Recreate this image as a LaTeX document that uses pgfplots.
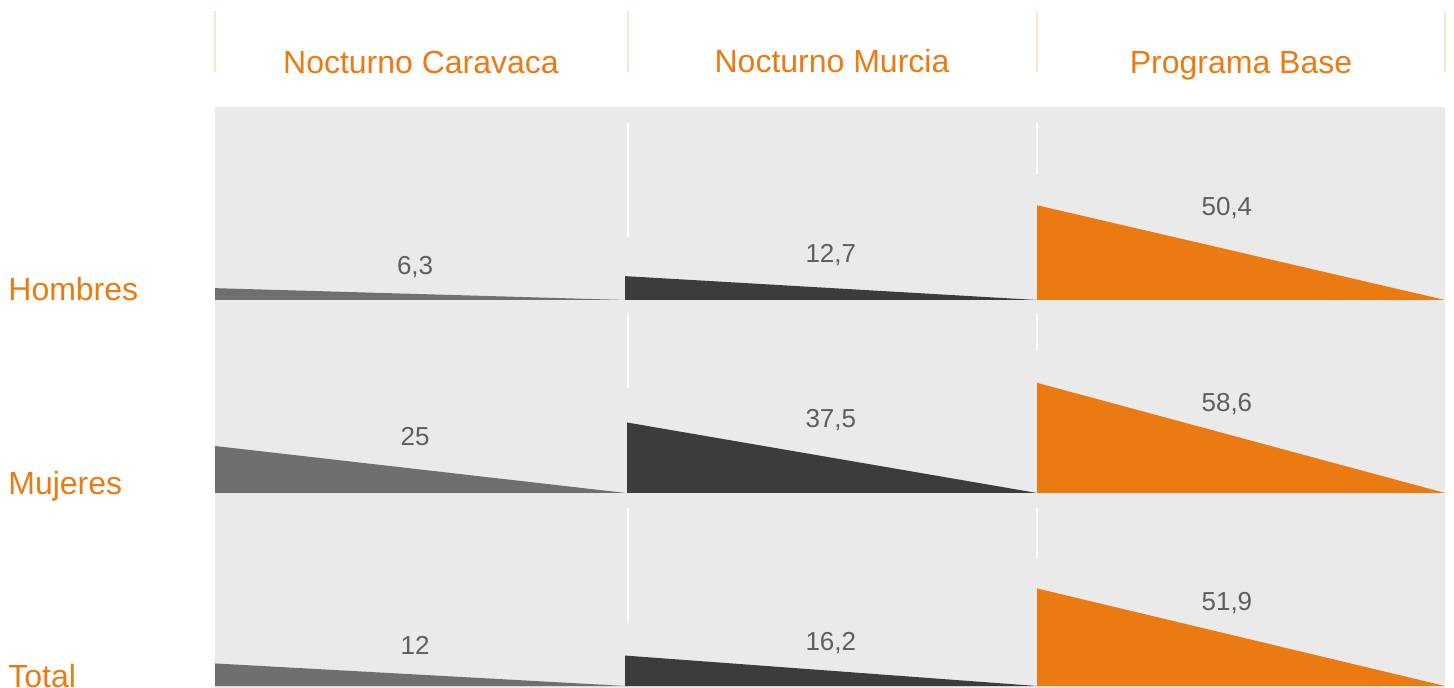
\documentclass[border=0pt]{standalone}
\usepackage{pgfplots}
\pgfplotsset{compat=1.18}
\usepackage{fontspec}
\setmainfont{Liberation Sans}
\definecolor{bg}{HTML}{EAEAEA}
\definecolor{cgray}{HTML}{6F6F6E}
\definecolor{cdark}{HTML}{3C3C3B}
\definecolor{corange}{HTML}{EC7A12}
\definecolor{hline}{HTML}{FCE4CE}
\definecolor{vtext}{HTML}{5E5E5E}
\pgfplotsset{rowax/.style={scale only axis, width=615pt, height=96.5pt,
  xmin=0, xmax=3, ymin=0, ymax=102.66, axis lines=none, ticks=none,
  clip=false, anchor=south west}}
\tikzset{vlab/.style={vtext, anchor=base, font=\fontsize{13}{15}\selectfont},
  ttl/.style={corange, font=\fontsize{16}{19}\selectfont}}
\begin{document}
\begin{tikzpicture}
\begin{scope}[x=0.5pt,y=-0.5pt]
\path[use as bounding box] (0,0) rectangle (1454,688);
\fill[bg] (215,107) rectangle (1445,688);
\foreach \x in {215,628,1037,1445} \draw[hline, line width=1pt] (\x,11) -- (\x,72);
\node[ttl, anchor=base] at (421,74) {Nocturno Caravaca};
\node[ttl, anchor=base] at (832,73) {Nocturno Murcia};
\node[ttl, anchor=base] at (1241,74) {Programa Base};
\node[ttl, anchor=base west, inner sep=0pt] at (8,301) {Hombres};
\node[ttl, anchor=base west, inner sep=0pt] at (8,495) {Mujeres};
\node[ttl, anchor=base west, inner sep=0pt] at (8,687) {Total};
% white separators
\draw[white, line width=1pt] (628,123) -- (628,237);
\draw[white, line width=1pt] (1037,123) -- (1037,174);
\draw[white, line width=1pt] (628,313) -- (628,388);
\draw[white, line width=1pt] (1037,313) -- (1037,351);
\draw[white, line width=1pt] (628,508) -- (628,623);
\draw[white, line width=1pt] (1037,508) -- (1037,559);
\end{scope}
% Hombres
\begin{axis}[rowax, at={(107.5pt,-150pt)}]
\addplot[fill=cgray, draw=none] coordinates {(0,0) (0,6.3) (1.002,0)} -- cycle;
\addplot[fill=cdark, draw=none] coordinates {(1.0,0) (1.0,12.7) (2.005,0)} -- cycle;
\addplot[fill=corange, draw=none] coordinates {(2.005,0) (2.005,50.4) (3,0)} -- cycle;
\node[vlab] at (axis cs:0.488,13.8) {6,3};
\node[vlab] at (axis cs:1.502,20.2) {12,7};
\node[vlab] at (axis cs:2.468,44.7) {50,4};
\end{axis}
% Mujeres
\begin{axis}[rowax, at={(107.5pt,-246.5pt)}]
\addplot[fill=cgray, draw=none] coordinates {(0,0) (0,25) (1.002,0)} -- cycle;
\addplot[fill=cdark, draw=none] coordinates {(1.005,0) (1.005,37.5) (2.005,0)} -- cycle;
\addplot[fill=corange, draw=none] coordinates {(2.005,0) (2.005,58.6) (3,0)} -- cycle;
\node[vlab] at (axis cs:0.488,25) {25};
\node[vlab] at (axis cs:1.502,34.6) {37,5};
\node[vlab] at (axis cs:2.468,43.6) {58,6};
\end{axis}
% Total
\begin{axis}[rowax, at={(107.5pt,-343pt)}]
\addplot[fill=cgray, draw=none] coordinates {(0,0) (0,12) (1.002,0)} -- cycle;
\addplot[fill=cdark, draw=none] coordinates {(1.0,0) (1.0,16.2) (2.005,0)} -- cycle;
\addplot[fill=corange, draw=none] coordinates {(2.005,0) (2.005,51.9) (3,0)} -- cycle;
\node[vlab] at (axis cs:0.488,16.5) {12};
\node[vlab] at (axis cs:1.502,19.1) {16,2};
\node[vlab] at (axis cs:2.468,39.9) {51,9};
\end{axis}
\end{tikzpicture}
\end{document}
